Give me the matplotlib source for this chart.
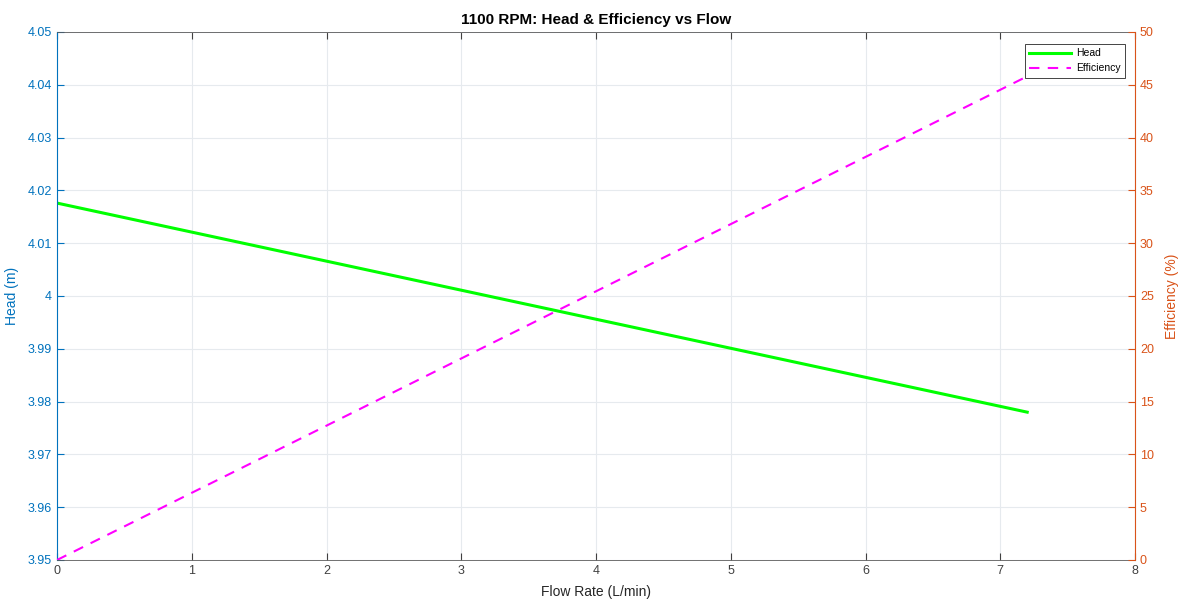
import matplotlib.pyplot as plt

plt.rcParams['font.family'] = ['Liberation Sans', 'DejaVu Sans']

# data
flow = [0, 1.8, 3.6, 5.4, 7.2]
head = [4.0176, 4.0077, 3.9978, 3.9879, 3.9780]
eff = [0.0, 11.45, 22.9, 34.35, 45.8]

x_ticks = [0, 1, 2, 3, 4, 5, 6, 7, 8]
head_ticks = [3.95, 3.96, 3.97, 3.98, 3.99, 4.0, 4.01, 4.02, 4.03, 4.04, 4.05]
head_labels = ["3.95", "3.96", "3.97", "3.98", "3.99", "4", "4.01", "4.02", "4.03", "4.04", "4.05"]
eff_ticks = [0, 5, 10, 15, 20, 25, 30, 35, 40, 45, 50]

blue = "#0072BD"
orange = "#D95319"

fig = plt.figure(figsize=(11.84, 6), dpi=100)
ax = fig.add_axes([57/1184, 40/600, 1078/1184, 528/600])
ax2 = ax.twinx()

l1, = ax.plot(flow, head, color="#00FF00", lw=2.2, label="Head")
l2, = ax2.plot(flow, eff, color="#FF00FF", lw=1.5, ls=(0, (5, 4)), label="Efficiency")

ax.set_xlim(0, 8)
ax.set_ylim(3.95, 4.05)
ax2.set_ylim(0, 50)
ax.set_xticks(x_ticks)
ax.set_yticks(head_ticks)
ax.set_yticklabels(head_labels)
ax2.set_yticks(eff_ticks)

ax.grid(True, color="#E6EAEE", lw=0.8)
ax.set_axisbelow(True)

ax.tick_params(axis="x", direction="in", top=True, colors="#404040", labelsize=9, length=5, width=0.8)
ax.tick_params(axis="y", direction="in", colors=blue, labelsize=9, length=5, width=0.8)
ax2.tick_params(axis="y", direction="in", colors=orange, labelsize=9, length=5, width=0.8)

for s in ["top", "bottom"]:
    ax.spines[s].set_color("#5a5a5a")
    ax.spines[s].set_linewidth(0.6)
ax.spines["left"].set_color(blue)
ax2.spines["left"].set_visible(False)
ax2.spines["top"].set_visible(False)
ax2.spines["bottom"].set_visible(False)
ax2.spines["right"].set_color(orange)
ax.spines["right"].set_visible(False)

ax.set_xlabel("Flow Rate (L/min)", fontsize=10, color="#262626", labelpad=6)
ax.set_ylabel("Head (m)", fontsize=10, color=blue, labelpad=6)
ax2.set_ylabel("Efficiency (%)", fontsize=10, color=orange, labelpad=8)
ax.set_title("1100 RPM: Head & Efficiency vs Flow", fontsize=11, fontweight="bold", pad=6)

leg = ax2.legend([l1, l2], ["Head", "Efficiency"], loc="upper right", fontsize=7.5,
                 fancybox=False, edgecolor="#262626", framealpha=1,
                 bbox_to_anchor=(0.9935, 0.983), handlelength=4, handletextpad=0.5,
                 borderaxespad=0.3)
leg.get_frame().set_linewidth(0.6)

fig.savefig("out.png", dpi=100)
